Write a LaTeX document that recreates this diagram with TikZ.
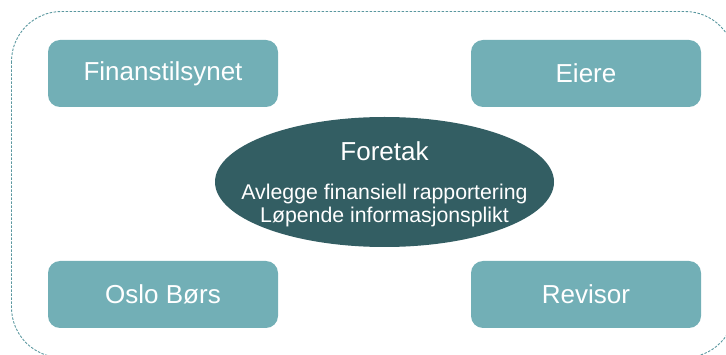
\documentclass[tikz,border=0pt]{standalone}
\usepackage{fontspec}
\setmainfont{Liberation Sans}
\definecolor{boxfill}{HTML}{72AFB6}
\definecolor{ellfill}{HTML}{335E63}
\definecolor{dashcol}{HTML}{5A979F}
\begin{document}
\begin{tikzpicture}[x=1pt,y=-1pt,
  rolebox/.style={fill=boxfill, draw=none, rounded corners=12pt, minimum width=230pt, minimum height=67pt, inner sep=0pt, text=white, font=\fontsize{26}{30}\selectfont},
  centre/.style={ellipse, fill=ellfill, draw=none, minimum width=339pt, minimum height=130pt, inner sep=0pt},
  frame/.style={draw=dashcol, line width=0.9pt, dash pattern=on 2.5pt off 1.5pt, rounded corners=50pt}]
\useasboundingbox (0,0) rectangle (726,355);
\begin{scope}
\clip (0,0) rectangle (726,355);
\draw[frame] (11.5,11.5) rectangle (735,357.5);
\end{scope}
\node[rolebox] (fin) at (163,73.5) {Finanstilsynet};
\node[rolebox] (eie) at (586,73.5) {Eiere};
\node[rolebox] (osl) at (163,294.5) {Oslo Børs};
\node[rolebox] (rev) at (586,294.5) {Revisor};
\fill[ellfill] (384.5,182) ellipse [x radius=169.5, y radius=65];
\coordinate (fc) at (384.5,182);
\node[text=white, font=\fontsize{26}{30}\selectfont, anchor=base] (fore) at (384.5,161) {Foretak};
\node[text=white, font=\fontsize{21.3}{23}\selectfont, anchor=base] (l1) at (384.5,200) {Avlegge finansiell rapportering};
\node[text=white, font=\fontsize{21.3}{23}\selectfont, anchor=base] (l2) at (384.5,223) {Løpende informasjonsplikt};
\end{tikzpicture}
\end{document}
